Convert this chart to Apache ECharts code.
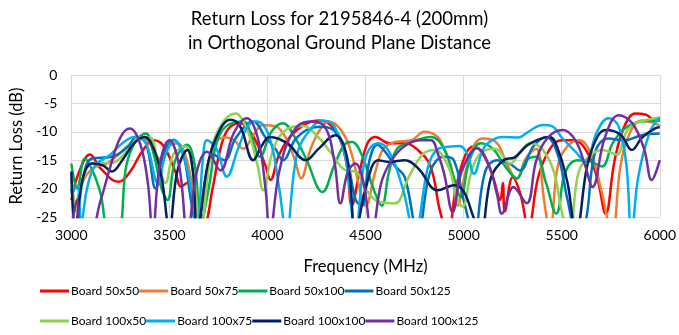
<!DOCTYPE html>
<html>
<head>
<meta charset="utf-8">
<script src="https://cdn.jsdelivr.net/npm/echarts@6/dist/echarts.min.js"></script>
<style>
  html, body { margin: 0; padding: 0; background: #fff; }
  #chart { width: 679px; height: 335px; }
</style>
</head>
<body>
<div id="chart"></div>
<script>
// 回波损耗数据 [频率 MHz, dB]，从图上读取的峰值与谷值
const board50x50 = [[3000,-22],[3040,-17],[3095,-14],[3150,-16.5],[3240,-18.8],[3300,-17],[3360,-13.5],[3420,-11.5],[3470,-12.5],[3530,-17],[3560,-19.7],[3590,-19],[3630,-21],[3680,-26],[3720,-20],[3760,-13],[3800,-9.5],[3860,-8.5],[3930,-11],[3990,-16],[4015,-18.5],[4060,-14],[4140,-10],[4260,-8],[4340,-9.5],[4400,-15],[4430,-23],[4470,-17],[4510,-12],[4550,-10.9],[4620,-12],[4700,-12],[4760,-13],[4830,-16],[4880,-24],[4920,-28],[4960,-20],[5010,-14],[5050,-12.6],[5100,-14],[5150,-18],[5187,-22],[5200,-19],[5210,-24],[5250,-18],[5290,-21],[5330,-27],[5380,-18],[5440,-13],[5500,-11.5],[5560,-11.5],[5620,-13],[5680,-18],[5724,-24.4],[5770,-15],[5820,-9],[5875,-6.8],[5930,-7],[5975,-8],[6000,-8]]
const board50x75 = [[3000,-27],[3030,-22],[3070,-18],[3120,-16.2],[3180,-15.6],[3240,-14],[3290,-12.4],[3350,-11],[3390,-11.5],[3430,-14],[3460,-15],[3500,-12.5],[3540,-12],[3580,-14],[3620,-20],[3660,-27],[3700,-16],[3745,-11.5],[3790,-11],[3830,-11.5],[3877,-13],[3930,-10.5],[3978,-8.8],[4045,-9.1],[4100,-11.5],[4140,-15],[4171,-18.2],[4220,-13],[4270,-9.5],[4314,-8.2],[4381,-10],[4430,-14],[4470,-20],[4500,-23],[4550,-17],[4590,-13],[4650,-11.8],[4733,-11.5],[4800,-10],[4868,-10.9],[4900,-13],[4935,-16],[4970,-23],[5010,-17],[5060,-12],[5103,-11.2],[5170,-12],[5220,-15.6],[5270,-18.2],[5320,-14.5],[5370,-13],[5410,-22],[5440,-28],[5480,-16],[5530,-12.5],[5590,-11.5],[5650,-14],[5700,-20],[5757,-28],[5800,-16],[5850,-10],[5908,-8],[5976,-8.5],[6000,-9]]
const board50x100 = [[3000,-15.6],[3030,-20],[3069,-14.7],[3110,-17],[3150,-21],[3190,-27],[3240,-27],[3280,-16],[3330,-11.5],[3380,-10.3],[3420,-14],[3460,-20],[3490,-22],[3530,-15],[3590,-12.3],[3630,-16],[3660,-26],[3700,-20],[3740,-12],[3790,-9],[3877,-8.2],[3920,-11],[3961,-14.4],[4020,-10],[4079,-8.5],[4140,-11],[4200,-15],[4280,-20.6],[4340,-16],[4400,-12],[4431,-11.8],[4480,-14],[4540,-20],[4582,-23],[4620,-17],[4660,-13],[4720,-12],[4834,-10.9],[4900,-13],[4950,-18],[4985,-21.5],[5030,-15],[5086,-12],[5150,-13],[5210,-16],[5271,-18.2],[5320,-15],[5371,-14.4],[5420,-19],[5472,-24.4],[5520,-17],[5580,-15],[5650,-15.3],[5705,-16.1],[5760,-12],[5822,-9.4],[5906,-8.2],[6000,-8]]
const board50x125 = [[3000,-20],[3030,-24],[3060,-18],[3105,-14.7],[3206,-14.4],[3290,-12.6],[3330,-10.9],[3380,-12],[3430,-20],[3470,-14],[3520,-11.4],[3570,-14],[3610,-22],[3640,-27],[3690,-17],[3723,-14],[3780,-15],[3840,-11],[3928,-8.2],[3990,-11],[4040,-13],[4079,-15],[4150,-11],[4263,-9.1],[4340,-9.8],[4400,-14],[4450,-22],[4481,-23],[4520,-15],[4560,-12.3],[4600,-13.5],[4650,-16],[4700,-18],[4767,-28],[4830,-17],[4900,-14.4],[4950,-15],[5000,-22],[5052,-28],[5110,-17],[5170,-15],[5230,-15.5],[5287,-16.8],[5355,-12.6],[5422,-10.9],[5480,-14],[5530,-22],[5580,-28],[5621,-26],[5671,-13.5],[5738,-11.2],[5820,-11.5],[5906,-10.6],[6000,-10.3]]
const board100x50 = [[3000,-18],[3030,-24],[3070,-17],[3120,-15.5],[3200,-15.5],[3290,-13.2],[3350,-11],[3400,-11],[3440,-15],[3480,-19],[3520,-14],[3580,-12.6],[3620,-17],[3660,-27],[3710,-14],[3760,-9],[3835,-6.8],[3900,-10],[3950,-16],[3978,-20.3],[4030,-13],[4100,-9.5],[4180,-9],[4260,-11],[4330,-14],[4400,-16.8],[4450,-17],[4500,-20],[4549,-22],[4600,-22.5],[4650,-22.6],[4720,-18],[4790,-14],[4851,-13.2],[4920,-16],[4970,-22],[4994,-23.2],[5040,-17],[5086,-13.8],[5160,-13],[5237,-15.6],[5290,-13.5],[5338,-12],[5400,-13],[5460,-17],[5500,-24],[5539,-28],[5580,-18],[5620,-15],[5707,-13.2],[5780,-14],[5830,-10],[5875,-8.5],[5976,-7.6],[6000,-7.5]]
const board100x75 = [[3000,-21],[3030,-19.5],[3050,-26],[3080,-20],[3120,-16],[3200,-14],[3260,-12],[3323,-10.9],[3380,-12],[3441,-19],[3480,-14],[3525,-11.5],[3570,-14],[3610,-20],[3642,-27],[3670,-15],[3692,-11.5],[3740,-13],[3793,-17.9],[3850,-13],[3900,-9],[3945,-8.2],[4010,-11],[4060,-20],[4096,-28],[4150,-14],[4220,-9.5],[4280,-8],[4340,-9],[4400,-15],[4448,-28],[4490,-16],[4520,-13],[4565,-12],[4620,-13.5],[4690,-20],[4750,-28],[4820,-16],[4870,-13],[4935,-12.6],[4980,-12.5],[5020,-14],[5052,-17.4],[5110,-12.5],[5203,-10.9],[5280,-11],[5330,-10],[5403,-8.8],[5450,-9],[5500,-11],[5570,-13.5],[5621,-15.3],[5680,-10],[5738,-7.6],[5790,-9],[5830,-16],[5856,-28],[5890,-18],[5950,-10],[6000,-7.5]]
const board100x100 = [[3000,-17],[3020,-27],[3060,-18],[3105,-15.6],[3160,-15.9],[3206,-17],[3260,-15],[3320,-12],[3373,-10.9],[3420,-13],[3460,-18],[3500,-27],[3540,-17],[3592,-13.2],[3620,-17],[3642,-27],[3700,-15],[3760,-9.5],[3810,-7.9],[3860,-9],[3928,-15],[3970,-12.5],[4012,-10.9],[4100,-12],[4196,-15],[4260,-13],[4347,-10.6],[4390,-12.5],[4420,-18],[4448,-28],[4500,-20],[4565,-15],[4620,-15.3],[4700,-15],[4770,-16.5],[4868,-20.3],[4952,-19.4],[5000,-20.5],[5050,-25],[5086,-28],[5140,-18],[5203,-15],[5260,-14.5],[5320,-12.5],[5371,-11.5],[5438,-10.9],[5480,-13],[5530,-19],[5573,-28],[5630,-16],[5680,-11],[5724,-9.7],[5800,-10.5],[5858,-13.2],[5910,-11],[5976,-9.4],[6000,-9.2]]
const board100x125 = [[3000,-27],[3030,-22],[3050,-28],[3090,-28],[3150,-22],[3200,-16],[3250,-11],[3298,-9.4],[3350,-12],[3390,-19],[3415,-28],[3450,-16],[3500,-11.5],[3550,-16],[3592,-28],[3640,-17],[3692,-13.5],[3760,-16.8],[3827,-10.3],[3894,-7.6],[3950,-11],[3990,-20],[4012,-28],[4060,-17],[4130,-10],[4213,-8.2],[4290,-9],[4340,-15],[4372,-22.6],[4410,-17],[4448,-15.6],[4490,-19],[4532,-28],[4580,-19],[4633,-15],[4700,-12.5],[4780,-11.5],[4834,-11.5],[4870,-14],[4901,-17.4],[4944,-24.1],[4990,-17],[5069,-12.9],[5130,-16],[5170,-21],[5195,-24.4],[5254,-19.7],[5321,-22.6],[5371,-15],[5430,-11],[5506,-9.7],[5570,-11.5],[5620,-16],[5657,-19.7],[5720,-11],[5791,-7.1],[5860,-8.5],[5920,-13],[5959,-18.5],[6000,-15]]

const seriesNames = ['Board 50x50', 'Board 50x75', 'Board 50x100', 'Board 50x125',
  'Board 100x50', 'Board 100x75', 'Board 100x100', 'Board 100x125']
const seriesData = [board50x50, board50x75, board50x100, board50x125,
  board100x50, board100x75, board100x100, board100x125]
const colors = ['#ff0000', '#ed7d31', '#00b050', '#0070c0', '#92d050', '#00b0f0', '#002060', '#7030a0']

const FONT = 'Lato'
const chart = echarts.init(document.getElementById('chart'))

// 图例：两行，每行四个，文字固定宽度以对齐列
const legendBase = {
  left: 40,
  padding: 0,
  icon: 'rect',
  itemWidth: 29,
  itemHeight: 3,
  itemGap: 0,
  formatter: '{t|{name}}',
  textStyle: {
    fontFamily: FONT, fontSize: 12, color: '#000',
    rich: { t: { width: 79, fontFamily: FONT, fontSize: 12, color: '#000', padding: [0, 0, 0, -3] } },
  },
}

chart.setOption({
  animation: false,
  color: colors,
  title: {
    text: 'Return Loss for 2195846-4 (200mm)\nin Orthogonal Ground Plane Distance',
    left: 'center',
    top: 2,
    textStyle: { fontFamily: FONT, fontSize: 18.5, fontWeight: 'normal', color: '#000', lineHeight: 24 },
  },
  legend: [
    Object.assign({}, legendBase, { top: 285, data: seriesNames.slice(0, 4) }),
    Object.assign({}, legendBase, { top: 315, data: seriesNames.slice(4) }),
  ],
  grid: { left: 69, right: 14, top: 75, bottom: 118 },
  xAxis: {
    type: 'value',
    min: 3000,
    max: 6000,
    interval: 500,
    name: 'Frequency (MHz)',
    nameLocation: 'middle',
    nameGap: 41,
    nameTextStyle: { fontFamily: FONT, fontSize: 16.5, color: '#000' },
    axisLine: { show: true, lineStyle: { color: '#d9d9d9' } },
    axisTick: { show: false },
    axisLabel: { fontFamily: FONT, fontSize: 14, color: '#000', margin: 11, formatter: v => String(v) },
    splitLine: { show: true, lineStyle: { color: '#d9d9d9' } },
  },
  yAxis: {
    type: 'value',
    min: -25,
    max: 0,
    interval: 5,
    name: 'Return Loss (dB)',
    nameLocation: 'middle',
    nameGap: 44,
    nameRotate: 90,
    nameTextStyle: { fontFamily: FONT, fontSize: 16.5, color: '#000' },
    axisLine: { show: false },
    axisTick: { show: false },
    axisLabel: { fontFamily: FONT, fontSize: 14, color: '#000', margin: 14 },
    splitLine: { show: true, lineStyle: { color: '#d9d9d9' } },
  },
  series: seriesNames.map((name, i) => ({
    name,
    type: 'line',
    data: seriesData[i],
    smooth: 0.4,
    showSymbol: false,
    clip: true,
    lineStyle: { width: 2.5, color: colors[i] },
    itemStyle: { color: colors[i] },
  })),
})
</script>
</body>
</html>
